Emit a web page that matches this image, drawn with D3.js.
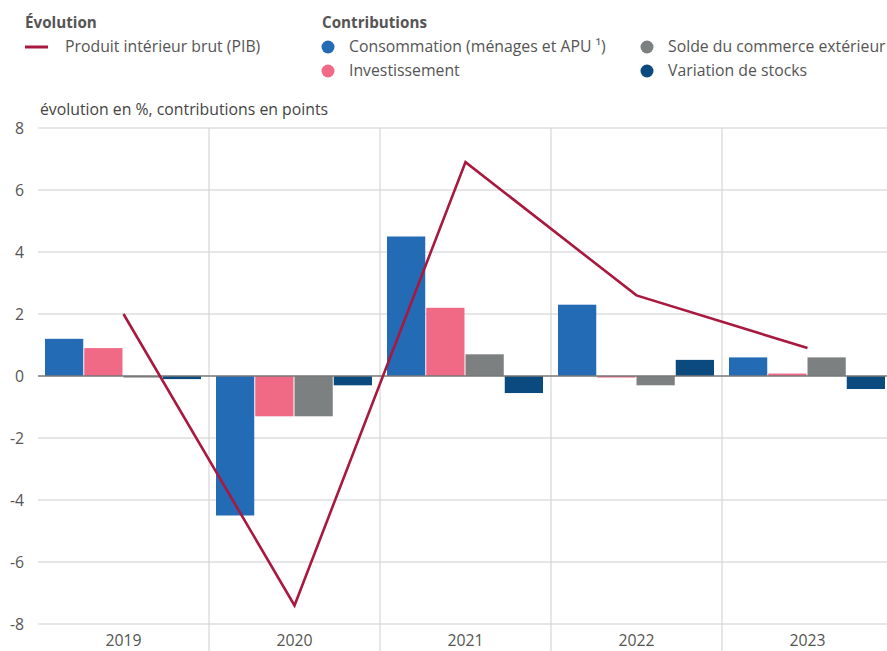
<!DOCTYPE html>
<html><head><meta charset="utf-8">
<script src="https://cdn.jsdelivr.net/npm/d3@7"></script>
<style>
body{margin:0;background:#fff;}
svg{display:block;font-family:"Open Sans",sans-serif;}
</style></head><body>
<svg id="c" width="887" height="651"></svg>
<script>
const years = ["2019","2020","2021","2022","2023"];
const seriesNames = ["Consommation (ménages et APU ¹)","Investissement","Solde du commerce extérieur","Variation de stocks"];
const consommation = [1.2,-4.5,4.5,2.3,0.6];
const investissement = [0.9,-1.3,2.2,-0.05,0.08];
const solde = [-0.05,-1.3,0.7,-0.3,0.6];
const stocks = [-0.1,-0.3,-0.55,0.52,-0.42];
const pib = [2.0,-7.4,6.9,2.6,0.9];
const yTicks = [-8,-6,-4,-2,0,2,4,6,8];
const colors = ["#246bb5","#f06a85","#7d8080","#0a4a7e"];
const lineColor = "#a8193f";
const fs = 15.8;

const svg = d3.select("#c");
const mLeft = 38, mRight = 893, mTop = 128, mBottom = 624;
const x = d3.scaleBand().domain(years).range([mLeft,mRight]).padding(0);
const y = d3.scaleLinear().domain([-8,8]).range([mBottom,mTop]);
const xi = d3.scaleBand().domain(d3.range(4)).range([7,163]).paddingInner(1/39);

// horizontal grid
svg.append("g").selectAll("line").data(yTicks.filter(d=>d!==0)).join("line")
  .attr("x1",mLeft).attr("x2",887).attr("y1",d=>y(d)).attr("y2",d=>y(d))
  .attr("stroke","#dedede").attr("stroke-width",1.3);
// vertical grid
svg.append("g").selectAll("line").data(years.slice(1)).join("line")
  .attr("x1",d=>x(d)).attr("x2",d=>x(d)).attr("y1",mTop).attr("y2",651)
  .attr("stroke","#d6d6d6").attr("stroke-width",1.2);

// y axis labels
const yAxis = d3.axisLeft(y).tickValues(yTicks).tickSize(0).tickPadding(0);
const ga = svg.append("g").attr("transform",`translate(24,0)`).call(yAxis);
ga.select(".domain").remove();
ga.selectAll("text").attr("font-size",fs).attr("fill","#555").attr("font-family","Open Sans")
  .text(d=>d<0?"-"+Math.abs(d):d);

// x axis labels
const xAxis = d3.axisBottom(x).tickSize(0).tickPadding(0);
const gx = svg.append("g").attr("transform",`translate(0,${mBottom+11})`).call(xAxis);
gx.select(".domain").remove();
gx.selectAll("text").attr("font-size",fs).attr("fill","#555").attr("font-family","Open Sans");

// bars
const data = [consommation,investissement,solde,stocks];
data.forEach((arr,i)=>{
  svg.append("g").selectAll("rect").data(arr).join("rect")
    .attr("x",(d,j)=>x(years[j])+xi(i))
    .attr("width",xi.bandwidth())
    .attr("y",d=>Math.min(y(d),y(0)))
    .attr("height",d=>Math.abs(y(d)-y(0)))
    .attr("fill",colors[i]);
});

// zero line
svg.append("line").attr("x1",mLeft).attr("x2",887).attr("y1",y(0)).attr("y2",y(0))
  .attr("stroke","#777").attr("stroke-width",1.5);

// line
svg.append("path").datum(pib)
  .attr("d",d3.line().x((d,j)=>x(years[j])+x.bandwidth()/2).y(d=>y(d)))
  .attr("fill","none").attr("stroke",lineColor).attr("stroke-width",2.6);

// axis title
svg.append("text").attr("x",40).attr("y",115).attr("font-size",fs).attr("fill","#444")
  .text("évolution en %, contributions en points");

// legend
svg.append("text").attr("x",25).attr("y",28).attr("font-size",15.2).attr("font-weight",700).attr("fill","#555").text("Évolution");
svg.append("text").attr("x",322).attr("y",28).attr("font-size",15.2).attr("font-weight",700).attr("fill","#555").text("Contributions");
svg.append("line").attr("x1",25).attr("x2",48).attr("y1",47).attr("y2",47).attr("stroke",lineColor).attr("stroke-width",3);
svg.append("text").attr("x",65).attr("y",52).attr("font-size",fs).attr("fill","#555").text("Produit intérieur brut (PIB)");
const legPos = [[328,47],[328,71],[647,47],[647,71]];
seriesNames.forEach((n,i)=>{
  const [cx,cy]=legPos[i];
  svg.append("circle").attr("cx",cx).attr("cy",cy).attr("r",6.5).attr("fill",colors[i]);
  svg.append("text").attr("x",cx+21).attr("y",cy+5).attr("font-size",fs).attr("fill","#555").text(n);
});
</script></body></html>
